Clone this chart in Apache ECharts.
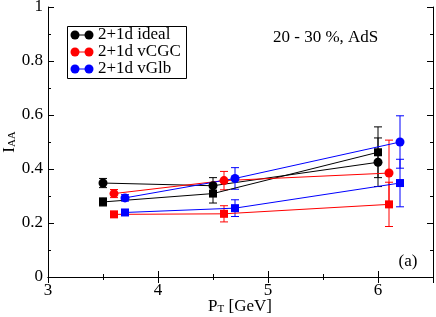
<!DOCTYPE html>
<html>
<head>
<meta charset="utf-8">
<script src="https://cdn.jsdelivr.net/npm/echarts@6/dist/echarts.min.js"></script>
<style>html,body{margin:0;padding:0;background:#fff}#c{width:436px;height:317px}</style>
</head>
<body>
<div id="c"></div>
<script>
// Data
const xBlack = [3.5, 4.5, 6.0];
const xRed = [3.6, 4.6, 6.1];
const xBlue = [3.7, 4.7, 6.2];

const idealCircle = [0.348, 0.338, 0.425];
const idealCircleErr = [0.017, 0.030, 0.090];
const idealSquare = [0.278, 0.309, 0.462];
const idealSquareErr = [0.015, 0.035, 0.094];

const cgcCircle = [0.309, 0.357, 0.385];
const cgcCircleErr = [0.015, 0.034, 0.122];
const cgcSquare = [0.232, 0.234, 0.269];
const cgcSquareErr = [0.008, 0.030, 0.082];

const glbCircle = [0.293, 0.365, 0.500];
const glbCircleErr = [0.012, 0.040, 0.097];
const glbSquare = [0.239, 0.255, 0.348];
const glbSquareErr = [0.008, 0.031, 0.088];

const legendNames = ['2+1d ideal', '2+1d vCGC', '2+1d vGlb'];
const annotation = '20 - 30 %, AdS';
const panelLabel = '(a)';
const xTitleMain = 'P', xTitleSub = 'T', xTitleRest = ' [GeV]';
const yTitleMain = 'I', yTitleSub = 'AA';

const FONT = 'Liberation Serif, Times New Roman, serif';
const FS = 17;
const FSS = 11;

const sets = [
  {x: xBlack, y: idealCircle, e: idealCircleErr, color: '#000000', sym: 'circle', size: 9},
  {x: xBlack, y: idealSquare, e: idealSquareErr, color: '#000000', sym: 'rect', size: 8},
  {x: xRed, y: cgcCircle, e: cgcCircleErr, color: '#ff0000', sym: 'circle', size: 9},
  {x: xRed, y: cgcSquare, e: cgcSquareErr, color: '#ff0000', sym: 'rect', size: 8},
  {x: xBlue, y: glbCircle, e: glbCircleErr, color: '#0000ff', sym: 'circle', size: 9},
  {x: xBlue, y: glbSquare, e: glbSquareErr, color: '#0000ff', sym: 'rect', size: 8}
];

const series = [];
sets.forEach(function (s) {
  series.push({
    type: 'custom',
    z: 2,
    encode: {x: 0, y: 1},
    data: s.x.map(function (xv, i) { return [xv, s.y[i], s.e[i]]; }),
    renderItem: function (params, api) {
      const x = api.value(0), y = api.value(1), e = api.value(2);
      const t = api.coord([x, y + e]);
      const b = api.coord([x, y - e]);
      const w = 4;
      const st = {stroke: s.color, lineWidth: 1};
      return {type: 'group', children: [
        {type: 'line', shape: {x1: t[0], y1: t[1], x2: b[0], y2: b[1]}, style: st},
        {type: 'line', shape: {x1: t[0] - w, y1: t[1], x2: t[0] + w, y2: t[1]}, style: st},
        {type: 'line', shape: {x1: b[0] - w, y1: b[1], x2: b[0] + w, y2: b[1]}, style: st}
      ]};
    }
  });
  series.push({
    type: 'line',
    z: 3,
    data: s.x.map(function (xv, i) { return [xv, s.y[i]]; }),
    symbol: s.sym,
    symbolSize: s.size,
    showSymbol: true,
    itemStyle: {color: s.color, borderWidth: 0},
    lineStyle: {color: s.color, width: 1},
    emphasis: {disabled: true},
    animation: false
  });
});

const tickStyle = {show: true, inside: true, length: 6, lineStyle: {color: '#000', width: 1}};
const minorStyle = {show: true, splitNumber: 2, length: 3, lineStyle: {color: '#000', width: 1}};
const lineStyleAx = {show: true, lineStyle: {color: '#000', width: 1}};

const richTitle = {
  m: {fontFamily: FONT, fontSize: FS, color: '#000', verticalAlign: 'top', lineHeight: 17},
  s: {fontFamily: FONT, fontSize: FSS, color: '#000', verticalAlign: 'bottom', lineHeight: 11, padding: [10, 0, 0, 0]}
};

const g = [
  {type: 'rect', shape: {x: 67.5, y: 26.5, width: 119, height: 52}, style: {fill: '#fff', stroke: '#000', lineWidth: 1}, z: 10}
];
const legendColors = ['#000000', '#ff0000', '#0000ff'];
legendNames.forEach(function (n, i) {
  const yy = 35 + i * 17;
  g.push({type: 'line', shape: {x1: 75, y1: yy, x2: 89, y2: yy}, style: {stroke: legendColors[i], lineWidth: 1}, z: 11});
  g.push({type: 'circle', shape: {cx: 75, cy: yy, r: 4.5}, style: {fill: legendColors[i]}, z: 11});
  g.push({type: 'circle', shape: {cx: 89, cy: yy, r: 4.5}, style: {fill: legendColors[i]}, z: 11});
  g.push({type: 'text', x: 98, y: yy, style: {text: n, fontFamily: FONT, fontSize: FS, fill: '#000', verticalAlign: 'middle', align: 'left'}, z: 11});
});
g.push({type: 'text', x: 273, y: 38, style: {text: annotation, fontFamily: FONT, fontSize: FS, fill: '#000', verticalAlign: 'middle', align: 'left'}, z: 11});
g.push({type: 'text', x: 408, y: 262, style: {text: panelLabel, fontFamily: FONT, fontSize: FS, fill: '#000', verticalAlign: 'middle', align: 'center'}, z: 11});
g.push({type: 'text', x: 240, y: 298, style: {
  text: '{m|' + xTitleMain + '}{s|' + xTitleSub + '}{m|' + xTitleRest + '}', rich: richTitle,
  align: 'center', verticalAlign: 'top'}, z: 11});
g.push({type: 'text', x: 9.5, y: 142, rotation: Math.PI / 2, style: {
  text: '{m|' + yTitleMain + '}{s|' + yTitleSub + '}', rich: richTitle,
  align: 'center', verticalAlign: 'middle'}, z: 11});

const chart = echarts.init(document.getElementById('c'), null, {renderer: 'canvas'});
chart.setOption({
  animation: false,
  backgroundColor: '#fff',
  grid: {left: 48, right: 3, top: 7, bottom: 40, containLabel: false, outerBoundsMode: 'none'},
  xAxis: [
    {
      type: 'value', min: 3, max: 6.5, interval: 1, position: 'bottom',
      axisLine: lineStyleAx, axisTick: tickStyle, minorTick: minorStyle,
      splitLine: {show: false},
      axisLabel: {color: '#000', fontFamily: FONT, fontSize: FS, margin: 5,
        formatter: function (v) { return (v % 1 === 0) ? String(v) : ''; }}
    },
    {
      type: 'value', min: 3, max: 6.5, interval: 1, position: 'top',
      axisLine: lineStyleAx, axisTick: tickStyle, minorTick: minorStyle,
      splitLine: {show: false}, axisLabel: {show: false}
    }
  ],
  yAxis: [
    {
      type: 'value', min: 0, max: 1, interval: 0.2, position: 'left',
      axisLine: lineStyleAx, axisTick: tickStyle, minorTick: minorStyle,
      splitLine: {show: false},
      axisLabel: {color: '#000', fontFamily: FONT, fontSize: FS, margin: 5,
        formatter: function (v) { return String(Math.round(v * 10) / 10); }}
    },
    {
      type: 'value', min: 0, max: 1, interval: 0.2, position: 'right',
      axisLine: lineStyleAx, axisTick: tickStyle, minorTick: minorStyle,
      splitLine: {show: false}, axisLabel: {show: false}
    }
  ],
  graphic: g,
  series: series
});
</script>
</body>
</html>
